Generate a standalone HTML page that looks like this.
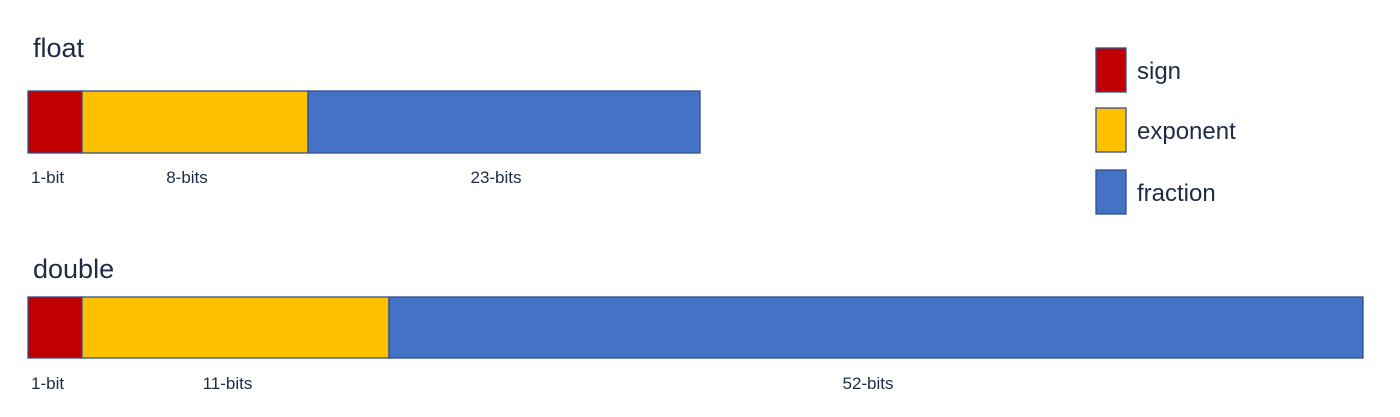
<!DOCTYPE html>
<html><head><meta charset="utf-8">
<style>
html,body{margin:0;padding:0;background:#fff;}
svg{display:block;font-family:"Liberation Sans",sans-serif;}
</style></head>
<body>
<svg id="chart" width="1400" height="417" viewBox="0 0 1400 417">
<text x="33" y="57" font-size="27" fill="#1f2a44">float</text>
<text x="33" y="278" font-size="27" fill="#1f2a44">double</text>
<g id="bars"></g>
<g id="legend"></g>
</svg>
<script>
const fieldNames = ["sign", "exponent", "fraction"];
const floatBits = [1, 8, 23];
const doubleBits = [1, 11, 52];
const fieldColors = ["#c00000", "#ffc000", "#4472c4"];

const NS = "http://www.w3.org/2000/svg";
function mk(tag, attrs, parent){
  const e = document.createElementNS(NS, tag);
  for (const k in attrs) e.setAttribute(k, attrs[k]);
  parent.appendChild(e);
  return e;
}
// piecewise-linear display scale (diagram is not drawn to bit scale)
function makeScale(domain, range){
  return function(v){
    for (let i = 0; i < domain.length - 1; i++){
      if (v <= domain[i+1] || i === domain.length - 2){
        const t = (v - domain[i]) / (domain[i+1] - domain[i] || 1);
        return range[i] + t * (range[i+1] - range[i]);
      }
    }
  };
}
function cum(bits){ const o=[0]; bits.forEach(b=>o.push(o[o.length-1]+b)); return o; }

const barsG = document.getElementById("bars");
function drawBar(bits, y, h, rangePx, labelY, key){
  const bounds = cum(bits);
  const refBounds = key === "float" ? cum([1,8,23]) : cum([1,11,52]);
  // scale total bits to same breakpoints proportionally
  const total = bounds[bounds.length-1];
  const refTotal = refBounds[refBounds.length-1];
  const sc = makeScale(refBounds.map(v=>v*total/refTotal), rangePx);
  bits.forEach((b,i)=>{
    const x0 = sc(bounds[i]), x1 = sc(bounds[i+1]);
    const r = mk("rect", {x:x0, y:y, width:x1-x0, height:h, fill:fieldColors[i], stroke:"#2f4f8f", "stroke-width":1.3}, barsG);
    
    
    const lbl = b + (b === 1 ? "-bit" : "-bits");
    const t = mk("text", {x: i===0 ? x0+3 : (x0+x1)/2 - 8, y: labelY, "font-size":17, fill:"#1f2a44", "text-anchor": i===0 ? "start" : "middle"}, barsG);
    t.textContent = lbl;
    
    
  });
}
drawBar(floatBits, 91, 62, [28, 82, 308, 700], 183, "float");
drawBar(doubleBits, 297, 61, [28, 82, 389, 1363], 389, "double");

const lg = document.getElementById("legend");
const legendY = [48, 108, 170];
fieldNames.forEach((n,i)=>{
  const r = mk("rect", {x:1096, y:legendY[i], width:30, height:44, fill:fieldColors[i], stroke:"#2f4f8f", "stroke-width":1.3}, lg);
  
  
  const t = mk("text", {x:1137, y:legendY[i]+31, "font-size":24, fill:"#1f2a44"}, lg);
  t.textContent = n;
  
  
});
</script>
</body></html>
